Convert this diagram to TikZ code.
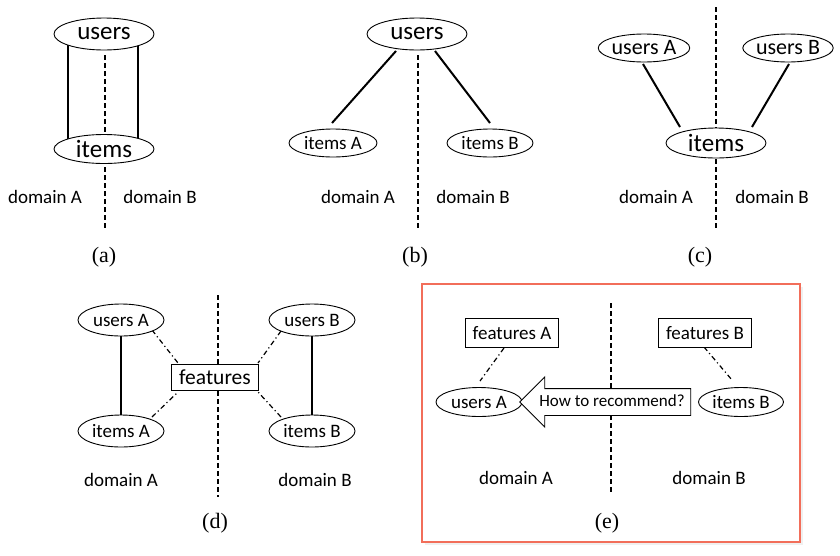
\documentclass[tikz,border=0pt]{standalone}
\usepackage{fontspec}
\setmainfont{Carlito}
\newfontfamily\capfont{Liberation Serif}
\usetikzlibrary{shapes.geometric,shapes.arrows}
\pgfdeclarelayer{back}
\pgfdeclarelayer{bg}
\pgfsetlayers{back,bg,main}
\definecolor{boxred}{RGB}{242,110,90}
\begin{document}
\begin{tikzpicture}[x=1pt,y=-1pt,
  oval/.style={ellipse,draw,fill=white,line width=0.9pt,inner sep=0pt},
  big/.style={font=\fontsize{25}{28}\selectfont},
  small/.style={font=\fontsize{19}{22}\selectfont},
  mid/.style={font=\fontsize{21.5}{24}\selectfont},
  box/.style={rectangle,draw,fill=white,line width=0.9pt,inner sep=0pt},
  link/.style={line width=2pt},
  divider/.style={line width=1.2pt,dash pattern=on 5pt off 3pt},
  dashdot/.style={line width=1.2pt,dash pattern=on 5pt off 3pt on 1.2pt off 3pt},
  subcap/.style={font=\capfont\fontsize{22}{24}\selectfont},
  dom/.style={font=\fontsize{19}{22}\selectfont}]
\begin{pgfonlayer}{back}
  \fill[white] (0,0) rectangle (840,555);
  % frame around panel (e), with a faint shadow
  \fill[black!6] (425,287) rectangle (803,545);
  \draw[draw=boxred,fill=white,line width=1.5pt] (422,284) rectangle (800,542);
\end{pgfonlayer}
\useasboundingbox (0,0) rectangle (840,555);

% Offsets written with pt units point upwards (positive = up on the page).

% ---------- (a) shared users and items ----------
\node[oval,big,minimum width=100pt,minimum height=32pt] (aU) at (104,34) {users};
\node[oval,big,minimum width=100pt,minimum height=29pt] (aI) at (104,149) {items};
\coordinate (aTop) at (105,55);
\coordinate (aBot) at (105,230);
\node[dom] (aDA) at (45,197) {domain A};
\node[dom] (aDB) at (160,197) {domain B};
\node[subcap] (aCap) at (104,257) {(a)};
\begin{pgfonlayer}{bg}
  \draw[link] ([xshift=-36pt]aU.center) -- ([xshift=-36pt]aI.center);
  \draw[link] ([xshift=34pt]aU.center) -- ([xshift=34pt]aI.center);
  \draw[divider] (aTop) -- (aBot);
\end{pgfonlayer}

% ---------- (b) shared users, separate items ----------
\node[oval,big,minimum width=100pt,minimum height=32pt] (bU) at (417,34) {users};
\node[oval,small,minimum width=88pt,minimum height=28pt] (bIA) at (333,143) {items A};
\node[oval,small,minimum width=86pt,minimum height=28pt] (bIB) at (490,143) {items B};
\coordinate (bTop) at (418,55);
\coordinate (bBot) at (418,230);
\node[dom] (bDA) at (358,197) {domain A};
\node[dom] (bDB) at (473,197) {domain B};
\node[subcap] (bCap) at (415,257) {(b)};
\begin{pgfonlayer}{bg}
  \draw[link] ([shift={(-21pt,-17pt)}]bU.center) -- ([shift={(-1pt,20pt)}]bIA.center);
  \draw[link] ([shift={(18pt,-17pt)}]bU.center) -- ([shift={(0pt,20pt)}]bIB.center);
  \draw[divider] (bTop) -- (bBot);
\end{pgfonlayer}

% ---------- (c) separate users, shared items ----------
\node[oval,font=\fontsize{22}{24}\selectfont,minimum width=84pt,minimum height=28pt] (cUA) at (644,48) {users A};
\node[oval,font=\fontsize{22}{24}\selectfont,minimum width=84pt,minimum height=28pt] (cUB) at (788,48) {users B};
\node[oval,big,minimum width=100pt,minimum height=30pt] (cI) at (716,143) {items};
\coordinate (cTop) at (716,7);
\coordinate (cBot) at (716,230);
\node[dom] (cDA) at (656,197) {domain A};
\node[dom] (cDB) at (772,197) {domain B};
\node[subcap] (cCap) at (700,257) {(c)};
\begin{pgfonlayer}{bg}
  \draw[link] ([shift={(-1pt,-16pt)}]cUA.center) -- ([shift={(-36pt,16pt)}]cI.center);
  \draw[link] ([shift={(1pt,-16pt)}]cUB.center) -- ([shift={(36pt,16pt)}]cI.center);
  \draw[divider] (cTop) -- (cBot);
\end{pgfonlayer}

% ---------- (d) shared features ----------
\node[oval,small,minimum width=86pt,minimum height=32pt] (dUA) at (121,320) {users A};
\node[oval,small,minimum width=86pt,minimum height=32pt] (dIA) at (121,431) {items A};
\node[oval,small,minimum width=86pt,minimum height=32pt] (dUB) at (312,320) {users B};
\node[oval,small,minimum width=86pt,minimum height=32pt] (dIB) at (312,431) {items B};
\node[box,mid,minimum width=87pt,minimum height=26pt] (dF) at (215,377) {features};
\coordinate (dTop) at (218,295);
\coordinate (dBot) at (218,497);
\node[dom] (dDA) at (121,480) {domain A};
\node[dom] (dDB) at (315,480) {domain B};
\node[subcap] (dCap) at (215,523) {(d)};
\begin{pgfonlayer}{bg}
  \draw[link] (dUA.south) -- (dIA.north);
  \draw[link] (dUB.south) -- (dIB.north);
  \draw[dashdot] ([shift={(31pt,-10pt)}]dUA.center) -- ([shift={(-37pt,14pt)}]dF.center);
  \draw[dashdot] ([shift={(31pt,14pt)}]dIA.center) -- ([shift={(-37pt,-15pt)}]dF.center);
  \draw[dashdot] ([shift={(-31pt,-11pt)}]dUB.center) -- ([shift={(43pt,14pt)}]dF.center);
  \draw[dashdot] ([shift={(-31pt,14pt)}]dIB.center) -- ([shift={(43pt,-15pt)}]dF.center);
  \draw[divider] (dTop) -- (dBot);
\end{pgfonlayer}

% ---------- (e) the open question ----------
\node[box,small,minimum width=93pt,minimum height=29pt] (eFA) at (512,333) {features A};
\node[box,small,minimum width=93pt,minimum height=29pt] (eFB) at (705,333) {features B};
\node[oval,small,minimum width=86pt,minimum height=29pt] (eUA) at (479,402) {users A};
\node[oval,small,minimum width=85pt,minimum height=29pt] (eIB) at (741,402) {items B};
\node[single arrow,draw,fill=white,line width=0.9pt,shape border rotate=180,
      minimum height=171pt,single arrow head extend=11.5pt,single arrow tip angle=90,
      inner xsep=1pt,inner ysep=6pt,text height=11pt,text depth=3pt,
      font=\fontsize{17}{19}\selectfont] (eQ) at (612,402) {How to recommend?};
\coordinate (eTop) at (611,303);
\coordinate (eBot) at (611,493);
\node[dom] (eDA) at (516,478) {domain A};
\node[dom] (eDB) at (709,478) {domain B};
\node[subcap] (eCap) at (607,523) {(e)};
\begin{pgfonlayer}{bg}
  \draw[dashdot] ([shift={(-8pt,-15pt)}]eFA.center) -- ([shift={(1pt,21pt)}]eUA.center);
  \draw[dashdot] ([shift={(-1pt,-14pt)}]eFB.center) -- ([shift={(-9pt,22pt)}]eIB.center);
  \draw[divider] (eTop) -- (eBot);
\end{pgfonlayer}
\end{tikzpicture}
\end{document}
